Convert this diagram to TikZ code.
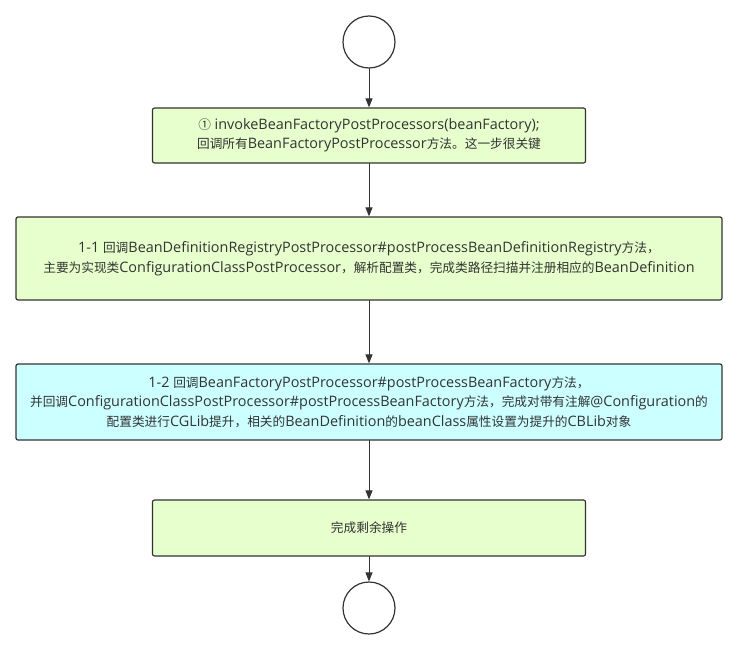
\documentclass[tikz,border=0pt]{standalone}
\usepackage{fontspec}
\setmainfont{Open Sans}
\newfontfamily\latinfont{Open Sans}
\newfontfamily\cjkfont{Noto Sans CJK SC}[Scale=0.88]
% switch to the CJK font around Chinese characters
\XeTeXinterchartokenstate=1
\newXeTeXintercharclass\CJKcls
\newcount\cjkcode
\def\setcjkrange#1#2{\cjkcode=#1 \loop\XeTeXcharclass\cjkcode=\CJKcls\ifnum\cjkcode<#2 \advance\cjkcode by 1 \repeat}
\setcjkrange{"4E00}{"9FFF}
\setcjkrange{"3000}{"303F}
\setcjkrange{"FF00}{"FFEF}
\setcjkrange{"2460}{"24FF}
\XeTeXinterchartoks 0 \CJKcls = {\cjkfont}
\XeTeXinterchartoks 4095 \CJKcls = {\cjkfont}
\XeTeXinterchartoks \CJKcls 0 = {\latinfont}
\XeTeXinterchartoks \CJKcls 4095 = {\latinfont}
\usetikzlibrary{arrows.meta}
\definecolor{boxgreen}{HTML}{E6FFCC}
\definecolor{boxcyan}{HTML}{CCFFFF}
\definecolor{linegray}{HTML}{333333}
\begin{document}
\begin{tikzpicture}[x=1pt,y=-1pt,line cap=round,line join=round]
	\tikzstyle{terminal}=[circle,draw=linegray,line width=1.2pt,minimum size=52pt,inner sep=0pt]
	\tikzstyle{stepbox}=[rectangle,rounded corners=2pt,draw=linegray,line width=1.2pt,align=center,text=linegray,font=\fontsize{14.4}{19.5}\selectfont,inner sep=0pt]
	\tikzstyle{flow}=[draw=linegray,line width=1pt,-{Triangle[length=9pt,width=7pt]}]
	\useasboundingbox (0,0) rectangle (742,656);
	\node[terminal] (start) at (369,42) {};
	\node[stepbox,fill=boxgreen,minimum width=433pt,minimum height=55pt] (invoke) at (369,135.5) {① invokeBeanFactoryPostProcessors(beanFactory);\\回调所有BeanFactoryPostProcessor方法。这一步很关键};
	\node[stepbox,fill=boxgreen,minimum width=706pt,minimum height=83pt] (registry) at (369,258.5) {1-1 回调BeanDefinitionRegistryPostProcessor\#postProcessBeanDefinitionRegistry方法，\\主要为实现类ConfigurationClassPostProcessor，解析配置类，完成类路径扫描并注册相应的BeanDefinition};
	\node[stepbox,fill=boxcyan,minimum width=706pt,minimum height=76pt] (factory) at (369,402) {1-2 回调BeanFactoryPostProcessor\#postProcessBeanFactory方法，\\并回调ConfigurationClassPostProcessor\#postProcessBeanFactory方法，完成对带有注解@Configuration的\\配置类进行CGLib提升，相关的BeanDefinition的beanClass属性设置为提升的CBLib对象};
	\node[stepbox,fill=boxgreen,minimum width=433pt,minimum height=56pt] (rest) at (369,528) {完成剩余操作};
	\node[terminal] (stop) at (369,608) {};
	\foreach \a/\b in {start/invoke, invoke/registry, registry/factory, factory/rest, rest/stop} {\draw[flow] (\a) -- (\b);}
\end{tikzpicture}
\end{document}
